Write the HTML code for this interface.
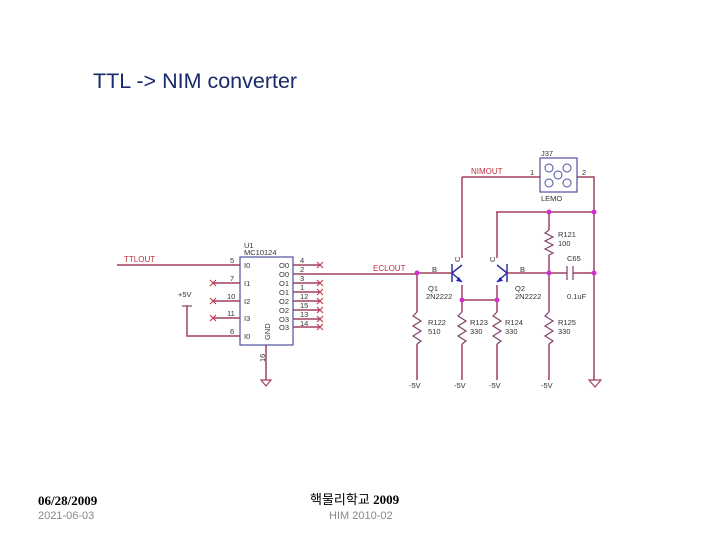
<!DOCTYPE html><html><head><style>body{margin:0;background:#fff}svg{display:block}</style></head><body>
<svg width="720" height="540" viewBox="0 0 720 540" font-family="Liberation Sans, sans-serif">
<text x="93" y="88" font-size="21.5" fill="#1a2a6a">TTL -&gt; NIM converter</text>
<g stroke="#a04060" stroke-width="1.5" fill="none">
<path d="M117 265H240M213 283H240M213 301H240M213 318H240M187 306V336H240"/>
<path d="M293 265H320M293 274H417M293 283H320M293 292H320M293 301H320M293 310H320M293 319H320M293 327H320"/>
<path d="M266 345V380"/>
<path d="M462 177H540M577 177H594V380M496 212H594M462 177V258M497 212V258M417 273H452M462 285V300H497V285M507 273H567M573 273H594"/>
<path d="M417 273V312M417 344V380M462 300V312M462 344V380M497 300V312M497 344V380M549 273V312M549 344V380M549 212V230M549 255V273"/>
</g>
<g stroke="#80406a" stroke-width="1.2" fill="none">
<path d="M417 312l-4 4 8 5-8 5 8 5-8 5 8 5-4 3"/>
<path d="M462 312l-4 4 8 5-8 5 8 5-8 5 8 5-4 3"/>
<path d="M497 312l-4 4 8 5-8 5 8 5-8 5 8 5-4 3"/>
<path d="M549 312l-4 4 8 5-8 5 8 5-8 5 8 5-4 3"/>
<path d="M549 230l-4 3 8 4-8 4 8 4-8 4 8 4-4 2"/>
<path d="M567 266V280M573 266V280"/>
<path d="M182 306H192"/>
</g>
<g stroke="#c04050" stroke-width="1.2">
<path d="M210 280l6 6M216 280l-6 6M210 298l6 6M216 298l-6 6M210 315l6 6M216 315l-6 6"/>
<path d="M317 262l6 6M323 262l-6 6M317 280l6 6M323 280l-6 6M317 289l6 6M323 289l-6 6M317 298l6 6M323 298l-6 6M317 307l6 6M323 307l-6 6M317 316l6 6M323 316l-6 6M317 324l6 6M323 324l-6 6"/>
</g>
<rect x="240" y="257" width="53" height="88" fill="none" stroke="#5050a0" stroke-width="1.2"/>
<g stroke="#3030a0" stroke-width="1.5" fill="none">
<path d="M452 264V282M452 273L462 265M452 273L462 282"/>
<path d="M507 264V282M507 273L497 265M507 273L497 282"/>
</g>
<path d="M462 282l-6-1 3-4z" fill="#2020c0"/><path d="M497 282l6-1-3-4z" fill="#2020c0"/>
<rect x="540" y="158" width="37" height="34" fill="none" stroke="#5050a0" stroke-width="1.2"/>
<g fill="none" stroke="#5050a0"><circle cx="549" cy="168" r="4"/><circle cx="567" cy="168" r="4"/><circle cx="558" cy="175" r="4"/><circle cx="549" cy="183" r="4"/><circle cx="567" cy="183" r="4"/></g>
<g fill="none" stroke="#a04060" stroke-width="1.2"><path d="M261 380h10l-5 6zM589 380h12l-6 7z"/></g>
<g fill="#d030d0"><circle cx="417" cy="273" r="2.5"/><circle cx="462" cy="300" r="2.5"/><circle cx="497" cy="300" r="2.5"/><circle cx="549" cy="212" r="2.5"/><circle cx="594" cy="212" r="2.5"/><circle cx="549" cy="273" r="2.5"/><circle cx="594" cy="273" r="2.5"/></g>
<g font-size="7.5" fill="#333">
<text x="244" y="248">U1</text><text x="244" y="255">MC10124</text>
<text x="244" y="268">I0</text><text x="244" y="286">I1</text><text x="244" y="304">I2</text><text x="244" y="321">I3</text><text x="244" y="339">I0</text>
<text x="279" y="268">O0</text><text x="279" y="277">O0</text><text x="279" y="286">O1</text><text x="279" y="295">O1</text><text x="279" y="304">O2</text><text x="279" y="313">O2</text><text x="279" y="322">O3</text><text x="279" y="330">O3</text>
<text x="230" y="263">5</text><text x="230" y="281">7</text><text x="227" y="299">10</text><text x="227" y="316">11</text><text x="230" y="334">6</text>
<text x="300" y="263">4</text><text x="300" y="272">2</text><text x="300" y="281">3</text><text x="300" y="290">1</text><text x="300" y="299">12</text><text x="300" y="308">15</text><text x="300" y="317">13</text><text x="300" y="326">14</text>
<text transform="translate(270,340) rotate(-90)">GND</text><text transform="translate(265,362) rotate(-90)">16</text>
<text x="178" y="297">+5V</text>
<text x="432" y="272">B</text><text x="520" y="272">B</text>
<text transform="translate(460,262) rotate(-90)">C</text><text transform="translate(495,262) rotate(-90)">C</text>
<text x="428" y="291">Q1</text><text x="426" y="299">2N2222</text><text x="515" y="291">Q2</text><text x="515" y="299">2N2222</text>
<text x="428" y="325">R122</text><text x="428" y="334">510</text><text x="470" y="325">R123</text><text x="470" y="334">330</text>
<text x="505" y="325">R124</text><text x="505" y="334">330</text><text x="558" y="325">R125</text><text x="558" y="334">330</text>
<text x="558" y="237">R121</text><text x="558" y="246">100</text><text x="567" y="261">C65</text><text x="567" y="299">0.1uF</text>
<text x="541" y="156">J37</text><text x="541" y="201">LEMO</text><text x="530" y="175">1</text><text x="582" y="175">2</text>
<text x="409" y="388">-5V</text><text x="454" y="388">-5V</text><text x="489" y="388">-5V</text><text x="541" y="388">-5V</text>
</g>
<g font-size="8" fill="#c03040"><text x="124" y="262">TTLOUT</text><text x="373" y="271">ECLOUT</text><text x="471" y="174">NIMOUT</text></g>
<text x="38" y="505" font-family="Liberation Serif, serif" font-weight="bold" font-size="13">06/28/2009</text>
<text x="38" y="519" font-size="11" fill="#888">2021-06-03</text>
<text x="310" y="504" font-family="Liberation Serif, Noto Sans CJK KR, serif" font-size="13">핵물리학교 <tspan font-weight="bold">2009</tspan></text>
<text x="329" y="519" font-size="11" fill="#888">HIM 2010-02</text>
</svg></body></html>
